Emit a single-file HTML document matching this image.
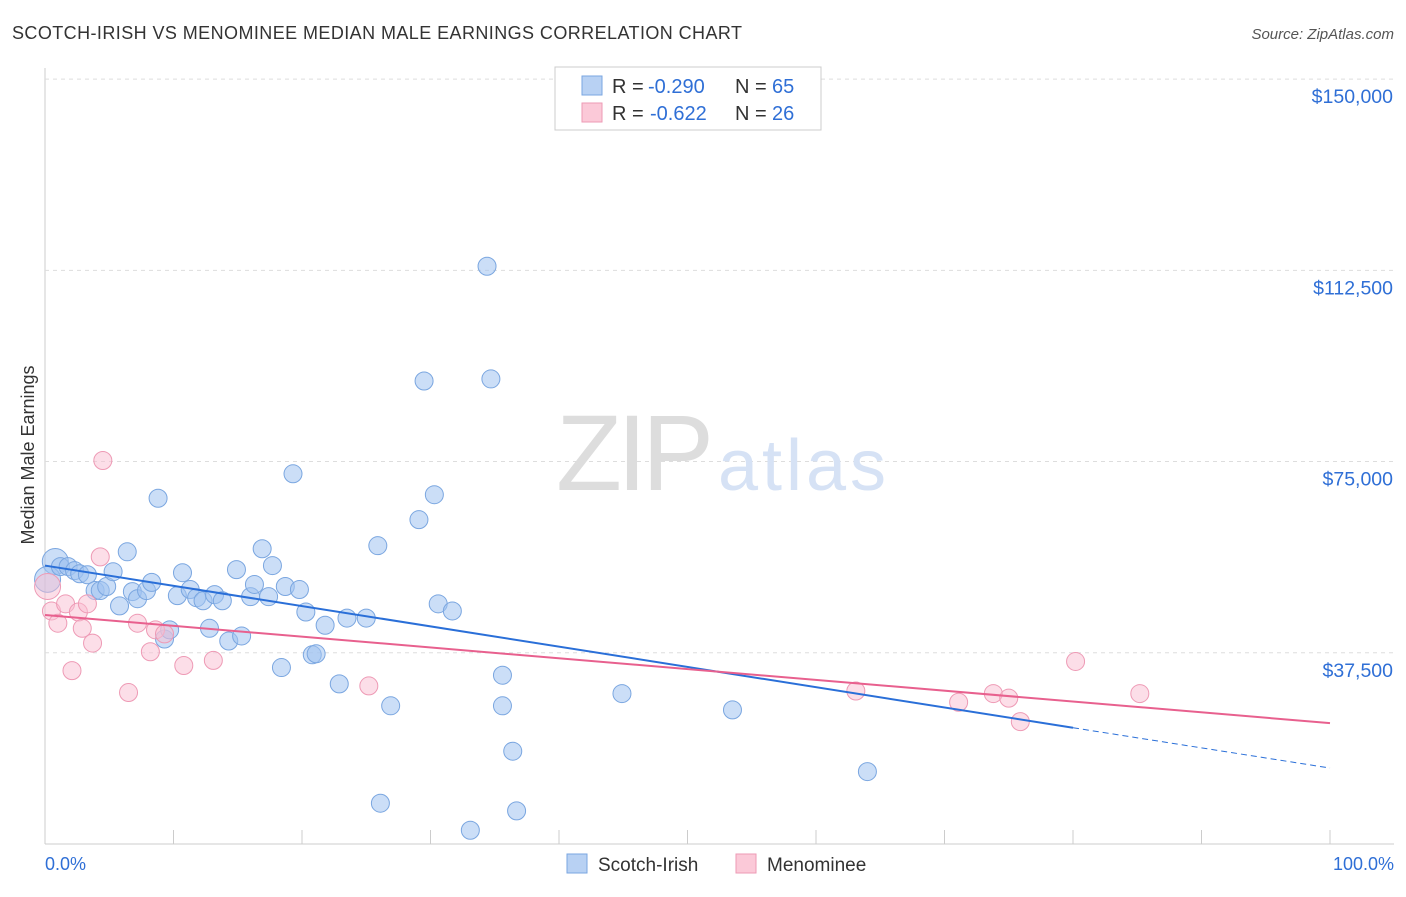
<!DOCTYPE html>
<html><head><meta charset="utf-8"><style>
body{margin:0;background:#fff;font-family:"Liberation Sans",sans-serif;}
svg text{font-family:"Liberation Sans",sans-serif;}
</style></head><body>
<svg id="chart" width="1406" height="892">
<text x="12" y="39" font-size="18" fill="#333" textLength="730">SCOTCH-IRISH VS MENOMINEE MEDIAN MALE EARNINGS CORRELATION CHART</text>
<text x="1394" y="39" font-size="15" fill="#555" text-anchor="end" font-style="italic">Source: ZipAtlas.com</text>
<text x="34" y="455" font-size="18" fill="#333" text-anchor="middle" transform="rotate(-90 34 455)">Median Male Earnings</text>
<g id="grid"></g>
<text x="714" y="490" font-size="108" fill="#ddd" text-anchor="end" font-family="Liberation Serif" textLength="158">ZIP</text>
<text x="718" y="490" font-size="72" fill="#d6e2f5" textLength="168">atlas</text>
<g id="marks"></g>
<g>
<rect x="555" y="67" width="266" height="63" fill="#fff" stroke="#ccc"/>
<rect x="582" y="76" width="20" height="19" fill="#b8d1f3" stroke="#7aa6e0"/>
<rect x="582" y="103" width="20" height="19" fill="#fbc9d8" stroke="#ee9ab5"/>
<text x="612" y="93" font-size="20" fill="#333">R =</text><text x="648" y="93" font-size="20" fill="#2f6fd6">-0.290</text><text x="735" y="93" font-size="20" fill="#333">N =</text><text x="772" y="93" font-size="20" fill="#2f6fd6">65</text>
<text x="612" y="120" font-size="20" fill="#333">R =</text><text x="650" y="120" font-size="20" fill="#2f6fd6">-0.622</text><text x="735" y="120" font-size="20" fill="#333">N =</text><text x="772" y="120" font-size="20" fill="#2f6fd6">26</text>
</g>
<g>
<rect x="567" y="854" width="20" height="19" fill="#b8d1f3" stroke="#7aa6e0"/>
<text x="598" y="871" font-size="19" fill="#333">Scotch-Irish</text>
<rect x="736" y="854" width="20" height="19" fill="#fbc9d8" stroke="#ee9ab5"/>
<text x="767" y="871" font-size="19" fill="#333">Menominee</text>
</g>
<text x="45" y="870" font-size="18" fill="#2f6fd6">0.0%</text>
<text x="1394" y="870" font-size="18" fill="#2f6fd6" text-anchor="end">100.0%</text>
</svg>
<script>
const yTicks=[37500,75000,112500,150000];
const yTickLabels=["$37,500","$75,000","$112,500","$150,000"];
const blueX=[0.8,0.2,1.2,1.8,2.3,2.7,3.3,3.9,4.3,4.8,5.3,5.8,6.4,6.8,7.2,7.9,8.3,8.8,9.3,9.7,10.7,10.3,11.3,11.8,12.3,12.8,13.2,13.8,14.3,14.9,15.3,16.0,16.3,16.9,17.4,17.7,18.4,18.7,19.3,19.8,20.3,20.8,21.1,21.8,22.9,23.5,25.0,25.9,26.1,26.9,29.1,29.5,30.3,30.6,31.7,33.1,34.4,34.7,35.6,35.6,36.4,36.7,44.9,53.5,64.0];
const blueY=[55400,51900,54400,54400,53600,53000,52800,49700,49700,50500,53400,46700,57300,49500,48100,49700,51300,67800,40200,42000,53200,48700,49900,48300,47700,42300,48900,47700,39800,53800,40800,48500,50900,57900,48500,54600,34600,50500,72600,49900,45500,37100,37300,42900,31400,44300,44300,58500,8000,27100,63600,90800,68500,47100,45700,2700,113300,91200,33100,27100,18200,6500,29500,26300,14200];
const pinkX=[0.2,0.5,1.0,1.6,2.1,2.6,2.9,3.3,3.7,4.5,4.3,6.5,7.2,8.2,8.6,9.3,10.8,13.1,25.2,63.1,71.1,73.8,75.0,75.9,80.2,85.2];
const pinkY=[50500,45700,43300,47100,34000,45500,42300,47100,39400,75200,56300,29700,43300,37700,42000,41200,35000,36000,31000,30000,27800,29500,28600,24000,35800,29500];
const blueFit=[54600,22800,14900]; // at 0, 80, 100
const pinkFit=[44900,23700]; // at 0, 100
const X=v=>45+v*12.85, Y=v=>844-v/196.1;
const NS="http://www.w3.org/2000/svg";
const grid=document.getElementById('grid'), marks=document.getElementById('marks');
function el(t,a,p){const e=document.createElementNS(NS,t);for(const k in a)e.setAttribute(k,a[k]);p.appendChild(e);return e;}
let ax=el('line',{x1:45,y1:68,x2:45,y2:844,stroke:'#ccc'},grid);


let xa=el('line',{x1:45,y1:844,x2:1394,y2:844,stroke:'#ccc'},grid);


for(let i=0;i<=10;i++){let t=el('line',{x1:X(i*10),y1:830,x2:X(i*10),y2:844,stroke:'#ccc'},grid);

}
yTicks.forEach((v,i)=>{let g=el('line',{x1:45,y1:Y(v),x2:1394,y2:Y(v),stroke:'#ddd','stroke-dasharray':'4,4'},grid);


let t=el('text',{x:1393,y:Y(v)+24,'font-size':19.5,fill:'#2f6fd6','text-anchor':'end'},grid);t.textContent=yTickLabels[i];

});
blueX.forEach((x,i)=>{let r=i<2?13:9;let c=el('circle',{cx:X(x),cy:Y(blueY[i]),r:r,fill:'rgba(160,195,240,0.55)',stroke:'#7aa6e0','stroke-width':1},marks);

});
pinkX.forEach((x,i)=>{let r=i<1?13:9;let c=el('circle',{cx:X(x),cy:Y(pinkY[i]),r:r,fill:'rgba(250,190,210,0.5)',stroke:'#ee9ab5','stroke-width':1},marks);

});
let b1=el('line',{x1:X(0),y1:Y(blueFit[0]),x2:X(80),y2:Y(blueFit[1]),stroke:'#2a6fd8','stroke-width':2},marks);


let b2=el('line',{x1:X(80),y1:Y(blueFit[1]),x2:X(100),y2:Y(blueFit[2]),stroke:'#2a6fd8','stroke-width':1,'stroke-dasharray':'6,4'},marks);


let p1=el('line',{x1:X(0),y1:Y(pinkFit[0]),x2:X(100),y2:Y(pinkFit[1]),stroke:'#e8608e','stroke-width':2},marks);


</script>
</body></html>
